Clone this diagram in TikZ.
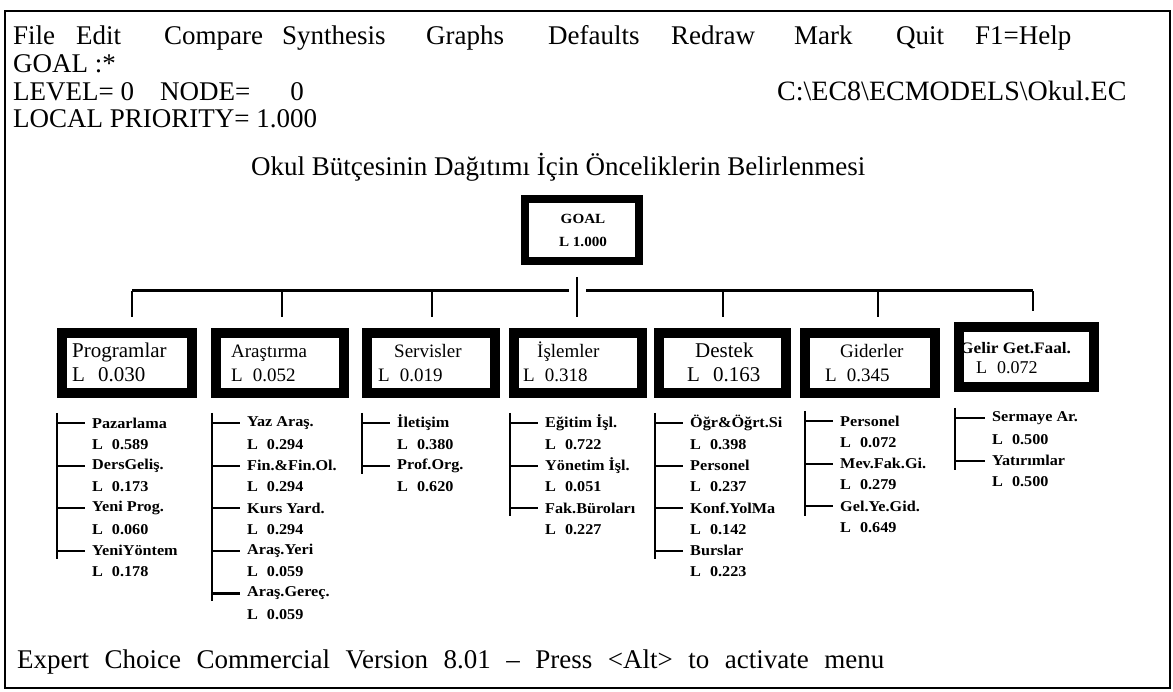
\documentclass[tikz,border=0pt]{standalone}
\usepackage{fontspec}
\setmainfont{Liberation Serif}
\newfontfamily\lstfont{Liberation Serif Bold}[FakeStretch=1.08]
\usetikzlibrary{calc}
\tikzset{
  x=1pt, y=-1pt,
  hdr/.style={anchor=base west, inner sep=0pt, font=\fontsize{27}{31}\selectfont},
  stat/.style={anchor=base west, inner sep=0pt, font=\fontsize{27}{31}\selectfont},
  critbox/.style={draw=black, line width=10pt, fill=white, inner sep=0pt, minimum height=60pt},
  goalbox/.style={draw=black, line width=8pt, fill=white, inner sep=0pt},
  bname/.style={anchor=base west, inner sep=0pt, font=\fontsize{19}{22}\selectfont},
  bnamebig/.style={anchor=base west, inner sep=0pt, font=\fontsize{21}{24}\selectfont},
  gtxt/.style={anchor=base, inner sep=0pt, font=\lstfont\fontsize{14}{16}\selectfont},
  item/.style={anchor=west, inner sep=0pt, font=\lstfont\fontsize{15}{18}\selectfont},
  bus/.style={line width=3pt},
  drop/.style={line width=2pt},
  brk/.style={line width=2.8pt},
  tick/.style={line width=2.2pt},
  frame/.style={line width=2.5pt},
}
\begin{document}
\begin{tikzpicture}
\useasboundingbox (0,0) rectangle (1173,692);
\fill[white] (0,0) rectangle (1173,692);
\draw[frame] (5,11) rectangle (1170,688);

% menu bar and status lines
\node[hdr] (mFile) at (13,45) {File};
\node[hdr] (mEdit) at (76,45) {Edit};
\node[hdr] (mCompare) at (164,45) {Compare};
\node[hdr] (mSynth) at (282,45) {Synthesis};
\node[hdr] (mGraphs) at (426,45) {Graphs};
\node[hdr] (mDefaults) at (548,45) {Defaults};
\node[hdr] (mRedraw) at (671,45) {Redraw};
\node[hdr] (mMark) at (794,45) {Mark};
\node[hdr] (mQuit) at (896,45) {Quit};
\node[hdr] (mHelp) at (975,45) {F1=Help};
\node[hdr] (goalline) at (13,73) {GOAL :*};
\node[hdr] (level) at (13,101) {LEVEL= 0\hspace{26pt}NODE=\hspace{40pt}0};
\node[hdr, font=\fontsize{28}{32}\selectfont] (path) at (777,101) {C:\textbackslash EC8\textbackslash ECMODELS\textbackslash Okul.EC};
\node[hdr] (prio) at (13,128) {LOCAL PRIORITY= 1.000};
\node[hdr] (title) at (251,176) {Okul Bütçesinin Dağıtımı İçin Önceliklerin Belirlenmesi};

% goal node
\node[goalbox, minimum width=114pt, minimum height=62pt] (goal) at (582,230) {};
\node[gtxt] (goalT) at (583,224) {GOAL};
\node[gtxt] (goalV) at (583,247) {L 1.000};

% criteria boxes
\node[critbox, minimum width=130pt] (prog) at (127,363) {};
\node[critbox, minimum width=128pt] (aras) at (280,363) {};
\node[critbox, minimum width=128pt] (serv) at (431,363) {};
\node[critbox, minimum width=128pt] (isl) at (578,363) {};
\node[critbox, minimum width=127pt] (dest) at (722.5,363) {};
\node[critbox, minimum width=130pt] (gid) at (870,363) {};
\node[critbox, minimum width=135pt] (gel) at (1026.5,357) {};

\node[bnamebig] (progN) at (72,358) {Programlar};
\node[bnamebig] (progV) at (72,382) {L\hspace{13pt}0.030};
\node[bname] (arasN) at (231,358) {Araştırma};
\node[bname] (arasV) at (231,382) {L\hspace{10pt}0.052};
\node[bname] (servN) at (394,358) {Servisler};
\node[bname] (servV) at (378,382) {L\hspace{10pt}0.019};
\node[bname] (islN) at (537,358) {İşlemler};
\node[bname] (islV) at (523,382) {L\hspace{10pt}0.318};
\node[bnamebig] (destN) at (695,358) {Destek};
\node[bnamebig] (destV) at (687,382) {L\hspace{13pt}0.163};
\node[bname] (gidN) at (840,358) {Giderler};
\node[bname] (gidV) at (825,382) {L\hspace{10pt}0.345};
\node[bname, font=\lstfont\fontsize{16}{19}\selectfont] (gelN) at (960,354) {Gelir Get.Faal.};
\node[bname, font=\fontsize{18}{21}\selectfont] (gelV) at (976,374) {L\hspace{10pt}0.072};

% connectors from the goal to the criteria
\coordinate (b1) at (132,291);
\coordinate (b2) at (282,291);
\coordinate (b3) at (432,291);
\coordinate (b5) at (723,291);
\coordinate (b6) at (878,291);
\coordinate (b7) at (1033,291);
\coordinate (bl) at (569,291);
\coordinate (br) at (586,291);
\draw[bus] (b1) -- (bl);
\draw[bus] (br) -- (b7);
\draw[drop] (b1) -- ($(b1 |- prog.north)+(0,-11)$);
\draw[drop] (b2) -- ($(b2 |- aras.north)+(0,-11)$);
\draw[drop] (b3) -- ($(b3 |- serv.north)+(0,-11)$);
\draw[drop] (b5) -- ($(b5 |- dest.north)+(0,-11)$);
\draw[drop] (b6) -- ($(b6 |- gid.north)+(0,-11)$);
\draw[drop] (b7) -- ($(b7 |- gel.north)+(0,-11)$);
\draw[drop] ($(goal.south)+(-5,12)$) -- ($(isl.north)+(-1,-11)$);

% sub-criteria lists
\def\rowh{21.3}
% column 1
\coordinate (k1) at (57,413);
\draw[brk] (k1) -- ++(0,146);
\foreach \nm/\vl [count=\k from 0] in {Pazarlama/0.589, DersGeliş./0.173, Yeni Prog./0.060}{
  \node[item] (c1n\k) at (92,{423+2*\rowh*\k}) {\nm};
  \node[item] (c1v\k) at (92,{423+\rowh+2*\rowh*\k}) {L\hspace{9pt}\vl};
  \draw[tick] (c1n\k.west -| k1) -- ([xshift=-7pt]c1n\k.west);
}
\node[item] (c1n3) at (92,{423+6*\rowh}) {YeniYöntem};
\draw[tick] (c1n3.west -| k1) -- ([xshift=-7pt]c1n3.west);
\begin{scope}
  \clip (85,560) rectangle (200,576);
  \node[item] (c1v3) at (92,{423+7*\rowh}) {L\hspace{9pt}0.178};
\end{scope}

% column 2
\coordinate (k2) at (212,413);
\draw[brk] (k2) -- ++(0,188);
\foreach \nm/\vl [count=\k from 0] in {Yaz Araş./0.294, Fin.\&Fin.Ol./0.294, Kurs Yard./0.294, Araş.Yeri/0.059, Araş.Gereç./0.059}{
  \node[item] (c2n\k) at (247,{423+2*\rowh*\k}) {\nm};
  \node[item] (c2v\k) at (247,{423+\rowh+2*\rowh*\k}) {L\hspace{9pt}\vl};
  \draw[tick] (c2n\k.west -| k2) -- ([xshift=-7pt]c2n\k.west);
}

% column 3
\coordinate (k3) at (362,413);
\draw[brk] (k3) -- ++(0,61);
\foreach \nm/\vl [count=\k from 0] in {İletişim/0.380, Prof.Org./0.620}{
  \node[item] (c3n\k) at (397,{423+2*\rowh*\k}) {\nm};
  \node[item] (c3v\k) at (397,{423+\rowh+2*\rowh*\k}) {L\hspace{9pt}\vl};
  \draw[tick] (c3n\k.west -| k3) -- ([xshift=-7pt]c3n\k.west);
}

% column 4
\coordinate (k4) at (510,413);
\draw[brk] (k4) -- ++(0,103);
\foreach \nm/\vl [count=\k from 0] in {Eğitim İşl./0.722, Yönetim İşl./0.051, Fak.Büroları/0.227}{
  \node[item] (c4n\k) at (545,{423+2*\rowh*\k}) {\nm};
  \node[item] (c4v\k) at (545,{423+\rowh+2*\rowh*\k}) {L\hspace{9pt}\vl};
  \draw[tick] (c4n\k.west -| k4) -- ([xshift=-7pt]c4n\k.west);
}

% column 5
\coordinate (k5) at (655,413);
\draw[brk] (k5) -- ++(0,146);
\foreach \nm/\vl [count=\k from 0] in {Öğr\&Öğrt.Si/0.398, Personel/0.237, Konf.YolMa/0.142}{
  \node[item] (c5n\k) at (690,{423+2*\rowh*\k}) {\nm};
  \node[item] (c5v\k) at (690,{423+\rowh+2*\rowh*\k}) {L\hspace{9pt}\vl};
  \draw[tick] (c5n\k.west -| k5) -- ([xshift=-7pt]c5n\k.west);
}
\node[item] (c5n3) at (690,{423+6*\rowh}) {Burslar};
\draw[tick] (c5n3.west -| k5) -- ([xshift=-7pt]c5n3.west);
\begin{scope}
  \clip (683,560) rectangle (800,576);
  \node[item] (c5v3) at (690,{423+7*\rowh}) {L\hspace{9pt}0.223};
\end{scope}

% column 6
\coordinate (k6) at (805,411);
\draw[brk] (k6) -- ++(0,105);
\foreach \nm/\vl [count=\k from 0] in {Personel/0.072, Mev.Fak.Gi./0.279, Gel.Ye.Gid./0.649}{
  \node[item] (c6n\k) at (840,{421+2*\rowh*\k}) {\nm};
  \node[item] (c6v\k) at (840,{421+\rowh+2*\rowh*\k}) {L\hspace{9pt}\vl};
  \draw[tick] (c6n\k.west -| k6) -- ([xshift=-7pt]c6n\k.west);
}

% column 7
\coordinate (k7) at (955,408);
\draw[brk] (k7) -- ++(0,62);
\foreach \nm/\vl [count=\k from 0] in {Sermaye Ar./0.500, Yatırımlar/0.500}{
  \node[item] (c7n\k) at (992,{418+2*\rowh*\k}) {\nm};
  \node[item] (c7v\k) at (992,{418+\rowh+2*\rowh*\k}) {L\hspace{9pt}\vl};
  \draw[tick] (c7n\k.west -| k7) -- ([xshift=-7pt]c7n\k.west);
}

% status line
\node[stat] (status) at (17,668) {\spaceskip=15.5pt Expert Choice Commercial Version 8.01 -- Press <Alt> to activate menu};
\end{tikzpicture}
\end{document}
